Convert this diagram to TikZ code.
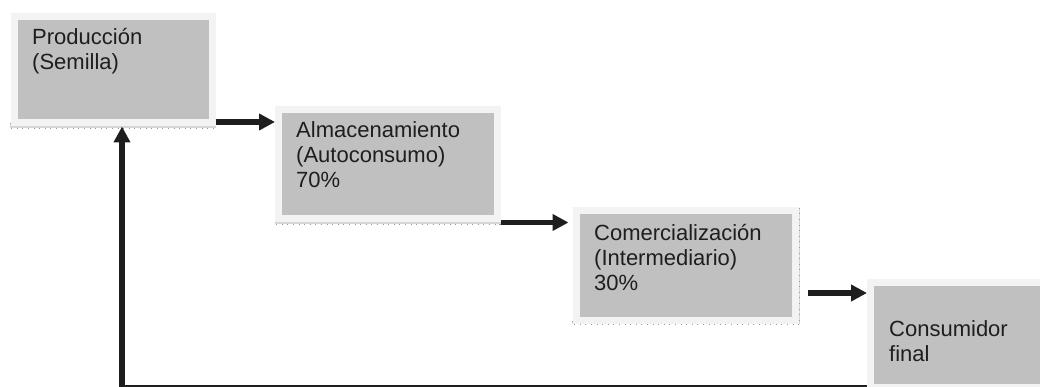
\documentclass[tikz,border=0pt]{standalone}
\usepackage{fontspec}
\setmainfont{Liberation Sans}
\usetikzlibrary{arrows.meta,calc}
\definecolor{boxgray}{HTML}{C0C0C0}
\definecolor{framegray}{HTML}{F3F3F3}
\definecolor{shadowgray}{HTML}{D6D6D6}
\definecolor{tickgray}{HTML}{9A9A9A}
\definecolor{ink}{HTML}{1E1E1E}
\definecolor{txt}{HTML}{1E1E1E}
\tikzset{
  x=1pt, y=1pt,
  stagebox/.style={draw=framegray, fill=boxgray, line width=7pt, inner sep=0pt, anchor=north west},
  stagetext/.style={anchor=base west, inner sep=0pt, align=left, text=txt,
    font=\fontsize{22pt}{25pt}\selectfont},
  flow/.style={draw=ink, line width=5.5pt, -{Triangle[length=16pt,width=16pt]}},
  shadowpart/.style={fill=shadowgray, draw=tickgray, line width=0.4pt, dash pattern=on 0.6pt off 5pt}
}
\begin{document}
\begin{tikzpicture}
\useasboundingbox (0,0) rectangle (1040,-387);
\clip (0,0) rectangle (1040,-387);
\fill[white] (0,0) rectangle (1040,-387);
% shadows
\path[shadowpart] (212,-15) rectangle (215.5,-128);
\path[shadowpart] (10,-123.5) rectangle (215.5,-128);
\path[shadowpart] (497,-108) rectangle (500.5,-224);
\path[shadowpart] (275,-219.5) rectangle (500.5,-224);
\path[shadowpart] (796,-208) rectangle (799.5,-324);
\path[shadowpart] (572,-320.5) rectangle (799.5,-324);
% boxes
\node[stagebox, minimum width=198pt, minimum height=106pt] (b1) at (10.5,-13.5) {};
\node[stagebox, minimum width=218.5pt, minimum height=109pt] (b2) at (275,-106.5) {};
\node[stagebox, minimum width=219.5pt, minimum height=109.5pt] (b3) at (572.5,-207) {};
\node[stagebox, minimum width=190pt, minimum height=105.5pt] (b4) at (867,-278.5) {};
% texts (anchor = baseline of last line)
\node[stagetext] (t1) at (32,-70) {Producción\\(Semilla)};
\node[stagetext] (t2) at (296,-188) {Almacenamiento\\(Autoconsumo)\\70\%};
\node[stagetext] (t3) at (594,-290) {Comercialización\\(Intermediario)\\30\%};
\node[stagetext] (t4) at (889,-361) {Consumidor\\final};
% connectors
\draw[flow] ([yshift=4.5pt]b1.south east) -- ([yshift=4.5pt]b1.south east -| b2.west);
\draw[flow, shorten >=4pt] (b2.south east) -- (b2.south east -| b3.west);
\draw[flow, shorten <=9pt] ([yshift=30.5pt]b3.south east) -- ([yshift=30.5pt]b3.south east -| b4.west);
\draw[flow] ([yshift=3pt]b4.south west) -| ([xshift=111.5pt]b1.south west);
\end{tikzpicture}
\end{document}
